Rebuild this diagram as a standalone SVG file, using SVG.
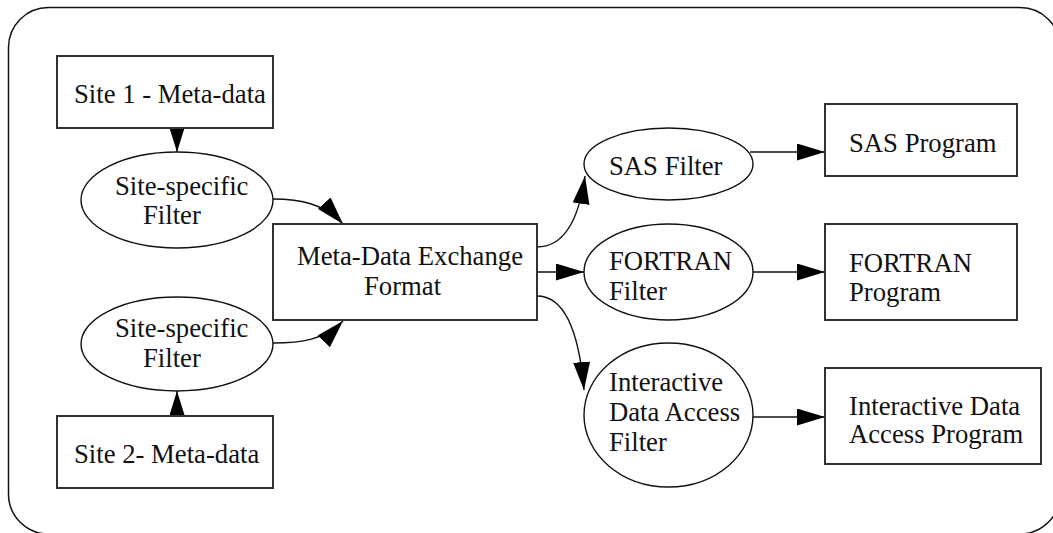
<svg xmlns="http://www.w3.org/2000/svg" width="1053" height="533" viewBox="0 0 1053 533">
  <style>
    .frame { fill: none; stroke: #111; stroke-width: 1.5; }
    .box { fill: #fff; stroke: #333; stroke-width: 2; }
    .oval { fill: #fff; stroke: #111; stroke-width: 1.4; }
    .lbl { font-family: "Liberation Serif", "Times New Roman", serif; font-size: 26.7px; fill: #111; }
    .edge { fill: none; stroke: #111; stroke-width: 1.4; }
    .edge-main { marker-end: url(#arrow); }
    .edge-short { marker-end: url(#arrowShort); }
  </style>
  <defs>
    <marker id="arrow" markerUnits="userSpaceOnUse" viewBox="0 0 28 17" markerWidth="28" markerHeight="17" refX="28" refY="8.5" orient="auto">
      <path d="M0,0 L28,8.5 L0,17 z" fill="#000"/>
    </marker>
    <marker id="arrowShort" markerUnits="userSpaceOnUse" viewBox="0 0 24 15" markerWidth="24" markerHeight="15" refX="24" refY="7.5" orient="auto">
      <path d="M0,0 L24,7.5 L0,15 z" fill="#000"/>
    </marker>
  </defs>

  <!-- outer rounded frame, running slightly past the right and bottom edges -->
  <rect class="frame" x="8.5" y="7.5" width="1051.5" height="526.5" rx="40" ry="40"/>

  <g id="connectors">
    <path class="edge edge-short" d="M177,128 L177,152"/>
    <path class="edge edge-short" d="M177,416 L177,391"/>
    <path class="edge edge-main" d="M273,199 C300,199 325,204 343,224"/>
    <path class="edge edge-main" d="M273,343 C300,343 325,340 343,321"/>
    <path class="edge edge-main" d="M537,247 C562,247 578,225 585,176"/>
    <path class="edge edge-main" d="M537,272 L584,272"/>
    <path class="edge edge-main" d="M537,296 C560,296 578,320 584,390"/>
    <path class="edge edge-main" d="M750,152 L825,152"/>
    <path class="edge edge-main" d="M753,272 L825,272"/>
    <path class="edge edge-main" d="M753,417 L825,417"/>
  </g>

  <g id="site1-metadata">
    <rect class="box" x="57" y="56" width="216" height="72"/>
    <text class="lbl" x="74" y="103">Site 1 - Meta-data</text>
  </g>

  <g id="site1-filter">
    <ellipse class="oval" cx="177" cy="200" rx="96" ry="48"/>
    <text class="lbl" x="115" y="195">Site-specific</text>
    <text class="lbl" x="143" y="224">Filter</text>
  </g>

  <g id="site2-filter">
    <ellipse class="oval" cx="177" cy="344" rx="96" ry="47"/>
    <text class="lbl" x="115" y="337">Site-specific</text>
    <text class="lbl" x="143" y="367">Filter</text>
  </g>

  <g id="site2-metadata">
    <rect class="box" x="57" y="416" width="216" height="72"/>
    <text class="lbl" x="74" y="463">Site 2- Meta-data</text>
  </g>

  <g id="exchange-format">
    <rect class="box" x="273" y="224" width="264" height="96"/>
    <text class="lbl" x="297" y="265">Meta-Data Exchange</text>
    <text class="lbl" x="364" y="295">Format</text>
  </g>

  <g id="sas-filter">
    <ellipse class="oval" cx="668.5" cy="164" rx="84.5" ry="36"/>
    <text class="lbl" x="609" y="175">SAS Filter</text>
  </g>

  <g id="fortran-filter">
    <ellipse class="oval" cx="668.5" cy="272" rx="84.5" ry="48"/>
    <text class="lbl" x="609" y="270">FORTRAN</text>
    <text class="lbl" x="609" y="300">Filter</text>
  </g>

  <g id="ida-filter">
    <ellipse class="oval" cx="668.5" cy="415" rx="84.5" ry="72"/>
    <text class="lbl" x="609" y="391">Interactive</text>
    <text class="lbl" x="609" y="421">Data Access</text>
    <text class="lbl" x="609" y="451">Filter</text>
  </g>

  <g id="sas-program">
    <rect class="box" x="825" y="104" width="192" height="72"/>
    <text class="lbl" x="849" y="152">SAS Program</text>
  </g>

  <g id="fortran-program">
    <rect class="box" x="825" y="224" width="192" height="96"/>
    <text class="lbl" x="849" y="272">FORTRAN</text>
    <text class="lbl" x="849" y="301">Program</text>
  </g>

  <g id="ida-program">
    <rect class="box" x="825" y="368" width="216" height="96"/>
    <text class="lbl" x="849" y="415">Interactive Data</text>
    <text class="lbl" x="849" y="443">Access Program</text>
  </g>
</svg>
